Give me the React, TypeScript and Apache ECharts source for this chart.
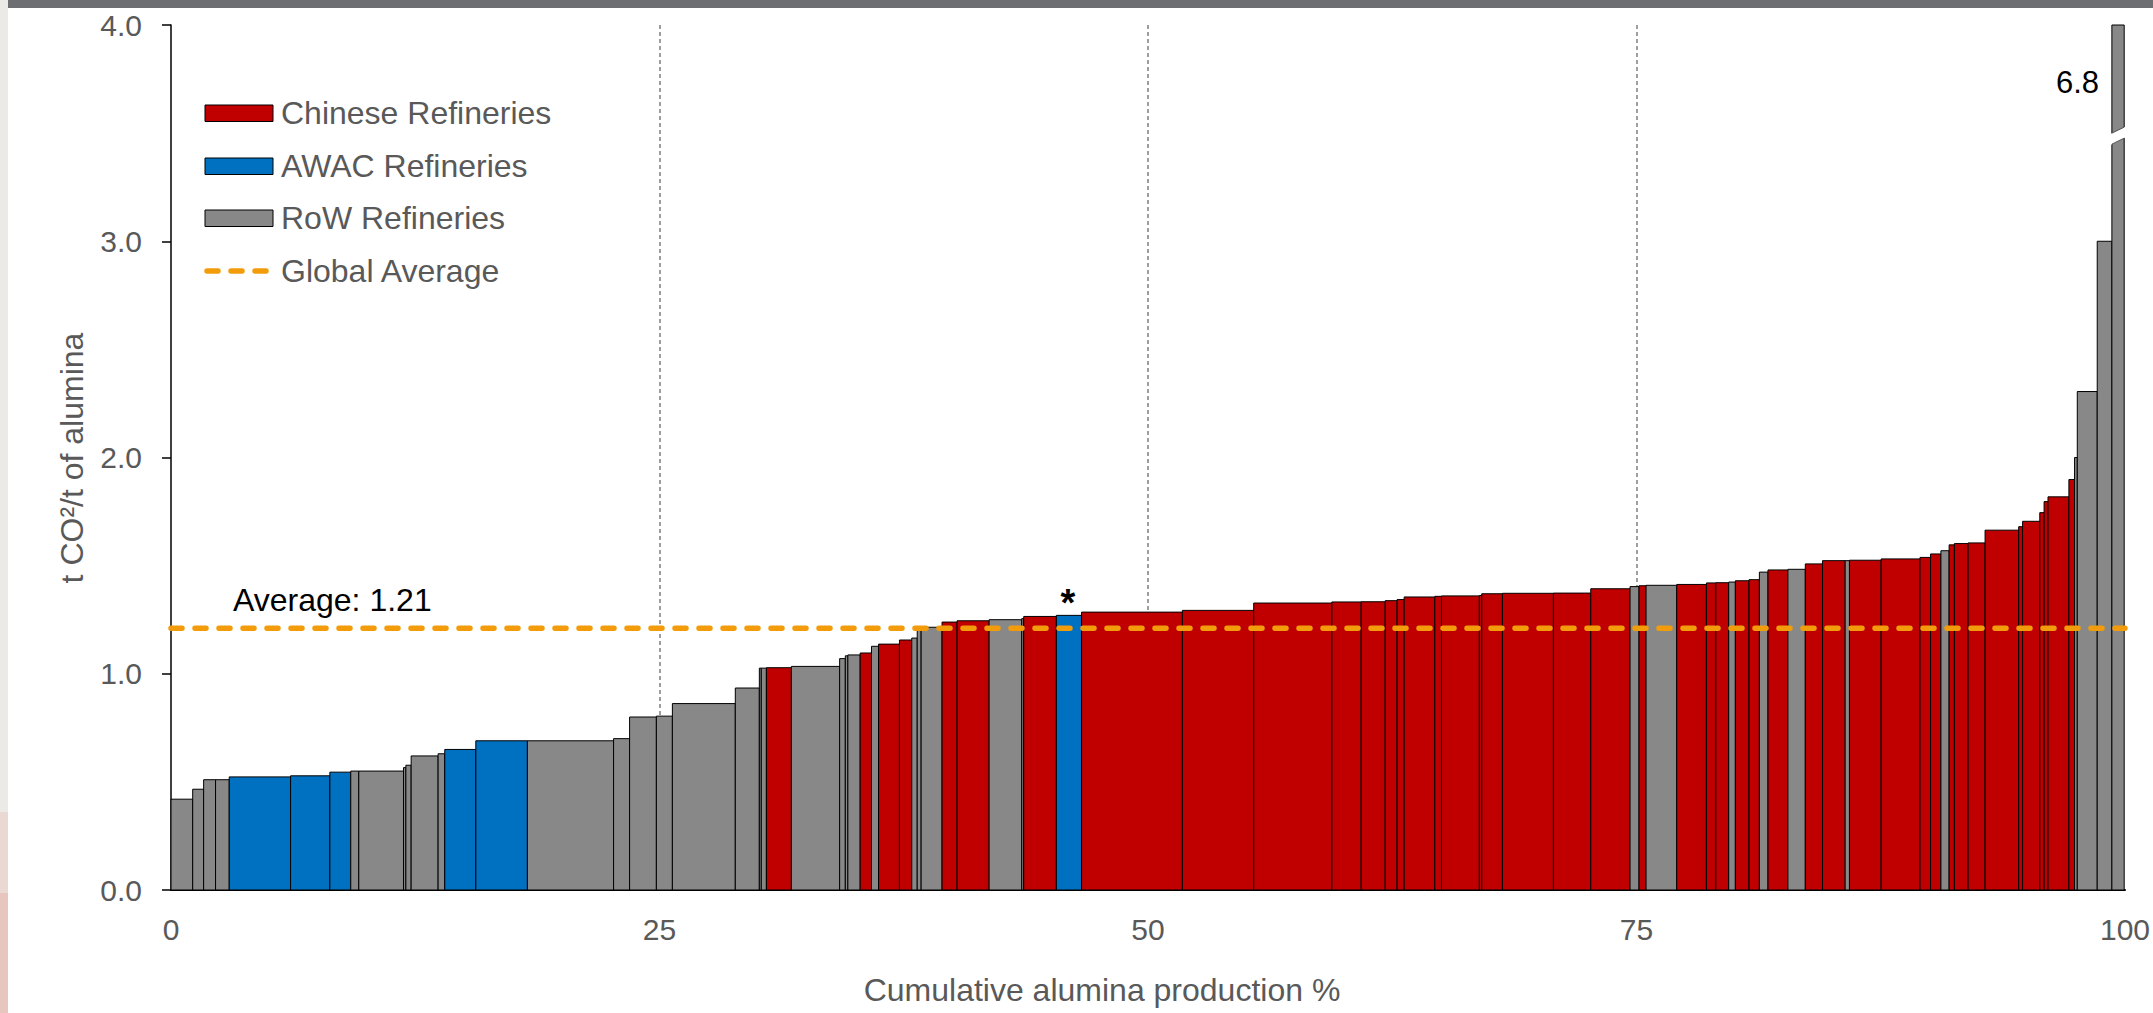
import React, { useEffect, useRef } from "react";
import * as echarts from "echarts";

// ---- Data ----
// Share of global alumina production (%) for each refinery, in cost-curve order
const productionShare = [
  1.11, 0.56, 0.61, 0.70, 3.14, 2.01, 1.07, 0.41, 2.29, 0.12,
  0.27, 1.38, 0.34, 1.59, 2.64, 4.41, 0.82, 1.37, 0.82, 3.22,
  1.23, 0.10, 0.26, 1.28, 2.47, 0.29, 0.13, 0.63, 0.58, 0.36,
  1.07, 0.63, 0.28, 0.20, 1.07, 0.77, 1.64, 1.67, 0.10, 1.67,
  1.29, 5.16, 3.65, 4.00, 1.50, 1.23, 0.61, 0.36, 1.57, 0.34,
  1.94, 0.12, 1.06, 2.61, 1.91, 2.01, 0.46, 0.36, 1.57, 1.52,
  0.48, 0.66, 0.34, 0.70, 0.53, 0.44, 1.02, 0.89, 0.88, 1.16,
  0.22, 1.62, 1.99, 0.54, 0.53, 0.42, 0.27, 0.70, 0.87, 1.72,
  0.20, 0.88, 0.22, 0.20, 1.07, 0.29, 0.14, 1.02, 0.75, 0.63,
];
// t CO2 / t alumina
const intensity = [
  0.42, 0.466, 0.51, 0.51, 0.523, 0.528, 0.545, 0.55, 0.55, 0.566,
  0.577, 0.62, 0.63, 0.65, 0.69, 0.69, 0.70, 0.80, 0.804, 0.862,
  0.934, 1.026, 1.026, 1.028, 1.034, 1.07, 1.083, 1.087, 1.096, 1.127,
  1.137, 1.156, 1.165, 1.21, 1.215, 1.239, 1.245, 1.25, 1.255, 1.265,
  1.27, 1.285, 1.293, 1.327, 1.332, 1.333, 1.338, 1.343, 1.355, 1.358,
  1.36, 1.362, 1.37, 1.372, 1.373, 1.393, 1.403, 1.407, 1.409, 1.413,
  1.42, 1.421, 1.424, 1.43, 1.435, 1.47, 1.48, 1.483, 1.508, 1.523,
  1.523, 1.525, 1.531, 1.538, 1.554, 1.569, 1.596, 1.602, 1.605, 1.664,
  1.68, 1.705, 1.745, 1.796, 1.818, 1.898, 2.0, 2.305, 3.0, 6.8,
];
const region = [
  "RoW", "RoW", "RoW", "RoW", "AWAC", "AWAC", "AWAC", "RoW", "RoW", "RoW",
  "RoW", "RoW", "RoW", "AWAC", "AWAC", "RoW", "RoW", "RoW", "RoW", "RoW",
  "RoW", "RoW", "RoW", "China", "RoW", "RoW", "RoW", "RoW", "China", "RoW",
  "China", "China", "RoW", "RoW", "RoW", "China", "China", "RoW", "RoW", "China",
  "AWAC", "China", "China", "China", "China", "China", "China", "China", "China", "China",
  "China", "China", "China", "China", "China", "China", "RoW", "China", "RoW", "China",
  "China", "China", "RoW", "China", "China", "RoW", "China", "RoW", "China", "China",
  "RoW", "China", "China", "China", "China", "RoW", "China", "China", "China", "China",
  "China", "China", "China", "China", "China", "China", "RoW", "RoW", "RoW", "RoW",
];
const regionNames = ["China", "AWAC", "RoW"];
const legendLabels = ["Chinese Refineries", "AWAC Refineries", "RoW Refineries", "Global Average"];
const globalAverage = 1.21;
const xTicks = [0, 25, 50, 75, 100];
const yMax = 4;

// ---- Styles ----
const FONT = "'Liberation Sans', Arial, Helvetica, sans-serif";
const COLORS: Record<string, string> = { China: "#C00000", AWAC: "#0070C0", RoW: "#888888" };
const ORANGE = "#F39C0B";
const LABEL_GREY = "#595959";

export default function App() {
  const ref = useRef<HTMLDivElement>(null);

  useEffect(() => {
    if (!ref.current) return;
    const chart = echarts.init(ref.current, undefined, { renderer: "svg" });

    let cum = 0;
    const curveData = productionShare.map((w, i) => {
      const start = cum;
      cum += w;
      return [start, cum, intensity[i], regionNames.indexOf(region[i])];
    });

    const renderItem = (params: any, api: any) => {
      const start = api.value(0);
      const end = api.value(1);
      const v = api.value(2);
      const reg = regionNames[api.value(3)];
      const top = Math.min(v, yMax);
      const p0 = api.coord([start, top]);
      const p1 = api.coord([end, 0]);
      const children: any[] = [
        {
          type: "rect",
          shape: { x: p0[0], y: p0[1], width: p1[0] - p0[0], height: p1[1] - p0[1] },
          style: { fill: COLORS[reg], stroke: "#000", lineWidth: 1 },
        },
      ];
      if (v > yMax) {
        const cy = api.coord([start, 3.5])[1];
        const x1 = p0[0];
        const x2 = p1[0];
        children.push({
          type: "polygon",
          shape: { points: [[x1 - 3, cy + 1.5], [x2 + 3, cy - 7.5], [x2 + 3, cy + 3.5], [x1 - 3, cy + 12.5]] },
          style: { fill: "#ffffff", stroke: "none" },
        });
        children.push({
          type: "line",
          shape: { x1: x1, y1: cy, x2: x2, y2: cy - 6 },
          style: { stroke: "#555", lineWidth: 1 },
        });
        children.push({
          type: "line",
          shape: { x1: x1, y1: cy + 11, x2: x2, y2: cy + 5 },
          style: { stroke: "#555", lineWidth: 1 },
        });
      }
      return { type: "group", children };
    };

    const legendY = [113, 166, 218];
    const legendGraphics: any[] = [];
    regionNames.forEach((r, i) => {
      legendGraphics.push({
        type: "rect",
        shape: { x: 205, y: legendY[i] - 8, width: 68, height: 16.5 },
        style: { fill: COLORS[r], stroke: "#000", lineWidth: 1 },
      });
      legendGraphics.push({
        type: "text",
        x: 281,
        y: legendY[i],
        style: { text: legendLabels[i], font: `32px ${FONT}`, fill: LABEL_GREY, textAlign: "left", textVerticalAlign: "middle" },
      });
    });
    legendGraphics.push({
      type: "line",
      shape: { x1: 207, y1: 271, x2: 266, y2: 271 },
      style: { stroke: ORANGE, lineWidth: 5.5, lineDash: [11, 13], lineCap: "round" },
    });
    legendGraphics.push({
      type: "text",
      x: 281,
      y: 271,
      style: { text: legendLabels[3], font: `32px ${FONT}`, fill: LABEL_GREY, textAlign: "left", textVerticalAlign: "middle" },
    });

    const option: any = {
      animation: false,
      backgroundColor: "#ffffff",
      textStyle: { fontFamily: FONT },
      grid: { left: 171, right: 26, top: 25, bottom: 123, containLabel: false },
      xAxis: {
        type: "value",
        min: xTicks[0],
        max: xTicks[xTicks.length - 1],
        interval: 25,
        axisLine: { show: true, lineStyle: { color: "#000", width: 2 } },
        axisTick: { show: false },
        axisLabel: { color: LABEL_GREY, fontSize: 30, margin: 24, fontFamily: FONT },
        splitLine: {
          show: true,
          showMinLine: false,
          showMaxLine: false,
          lineStyle: { color: "#7f7f7f", width: 1.5, type: [4, 3] },
        },
      },
      yAxis: {
        type: "value",
        min: 0,
        max: yMax,
        interval: 1,
        axisLine: { show: true, lineStyle: { color: "#000", width: 1.5 } },
        axisTick: { show: true, inside: false, length: 9, lineStyle: { color: "#000", width: 1.5 } },
        axisLabel: {
          color: LABEL_GREY,
          fontSize: 30,
          margin: 29,
          fontFamily: FONT,
          formatter: (v: number) => v.toFixed(1),
        },
        splitLine: { show: false },
      },
      series: [
        {
          type: "custom",
          name: "Refineries",
          renderItem,
          encode: { x: [0, 1], y: 2 },
          data: curveData,
          z: 3,
        },
        {
          type: "line",
          name: legendLabels[3],
          data: [
            [xTicks[0], globalAverage],
            [xTicks[xTicks.length - 1], globalAverage],
          ],
          symbol: "none",
          silent: true,
          lineStyle: { color: ORANGE, width: 5.5, type: [11, 13], cap: "round" },
          z: 5,
        },
      ],
      graphic: [
        // page frame artifacts
        { type: "rect", shape: { x: 0, y: 0, width: 8, height: 812 }, style: { fill: "#ebeae6" }, z: -1 },
        { type: "rect", shape: { x: 0, y: 812, width: 8, height: 81 }, style: { fill: "#ead8d2" }, z: -1 },
        { type: "rect", shape: { x: 0, y: 893, width: 8, height: 120 }, style: { fill: "#e6c6bf" }, z: -1 },
        { type: "rect", shape: { x: 8, y: 0, width: 2145, height: 8 }, style: { fill: "#6d6e71" }, z: 10 },
        ...legendGraphics,
        {
          type: "text",
          x: 233,
          y: 600,
          style: { text: `Average: ${globalAverage.toFixed(2)}`, font: `32px ${FONT}`, fill: "#000", textAlign: "left", textVerticalAlign: "middle" },
          z: 10,
        },
        {
          type: "text",
          x: 1068,
          y: 603,
          style: { text: "*", font: `bold 38px ${FONT}`, fill: "#000", textAlign: "center", textVerticalAlign: "middle" },
          z: 10,
        },
        {
          type: "text",
          x: 2099,
          y: 82,
          style: { text: intensity[intensity.length - 1].toFixed(1), font: `31px ${FONT}`, fill: "#000", textAlign: "right", textVerticalAlign: "middle" },
          z: 10,
        },
        {
          type: "text",
          x: 72,
          y: 458,
          rotation: Math.PI / 2,
          style: { text: "t CO²/t of alumina", font: `32px ${FONT}`, fill: LABEL_GREY, textAlign: "center", textVerticalAlign: "middle" },
          z: 10,
        },
        {
          type: "text",
          x: 1102,
          y: 990,
          style: { text: "Cumulative alumina production %", font: `32px ${FONT}`, fill: LABEL_GREY, textAlign: "center", textVerticalAlign: "middle" },
          z: 10,
        },
      ],
    };

    chart.setOption(option);
    return () => {
      chart.dispose();
    };
  }, []);

  return (
    <div
      ref={ref}
      style={{ position: "fixed", left: 0, top: 0, width: 2153, height: 1013, background: "#fff" }}
    />
  );
}
